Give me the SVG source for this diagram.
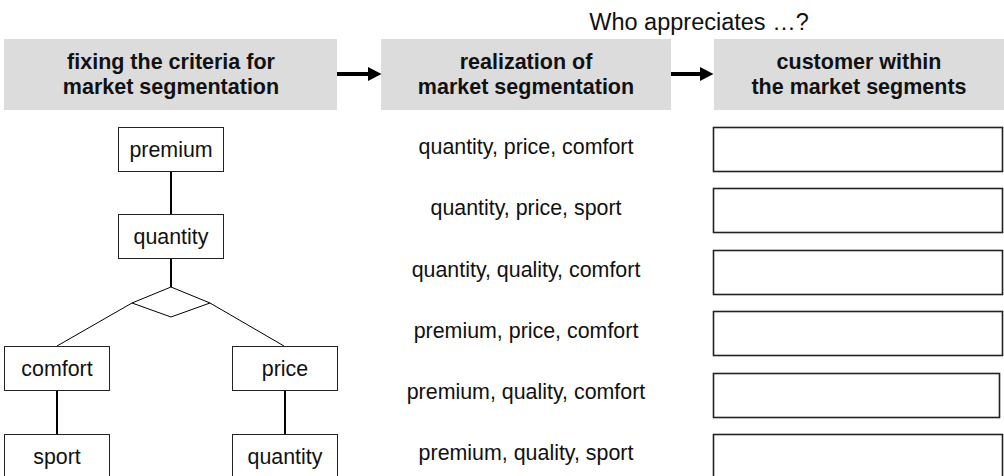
<svg xmlns="http://www.w3.org/2000/svg" width="1004" height="476" viewBox="0 0 1004 476">
<defs>
<style>
.hdr{fill:#dcdcdc;stroke:none}
.ht{font-family:"Liberation Sans",Arial,sans-serif;font-size:21.5px;font-weight:bold;fill:#111;text-anchor:middle}
.t{font-family:"Liberation Sans",Arial,sans-serif;font-size:21.4px;fill:#111;text-anchor:middle}
.box{fill:#fff;stroke:#222;stroke-width:1}
.ans{fill:#fff;stroke:#222;stroke-width:1.6}
.thick{stroke:#000;stroke-width:2;fill:none}
.thin{stroke:#000;stroke-width:1;fill:none}
.arr{stroke:#000;stroke-width:4;fill:none}
</style>
<marker id="ah" markerWidth="14" markerHeight="14" refX="0" refY="7" markerUnits="userSpaceOnUse" orient="auto">
<path d="M0,0 L13.5,7 L0,14 Z" fill="#000"/>
</marker>
</defs>
<rect width="1004" height="476" fill="#fff"/>

<text id="question" class="t" x="699" y="30" style="font-size:23.5px">Who appreciates …?</text>

<g id="header1">
<rect class="hdr" x="4" y="39" width="333" height="71"/>
<text class="ht" x="171" y="68.5">fixing the criteria for</text>
<text class="ht" x="171" y="93.5">market segmentation</text>
</g>
<g id="header2">
<rect class="hdr" x="381" y="39" width="290" height="71"/>
<text class="ht" x="526" y="68.5">realization of</text>
<text class="ht" x="526" y="93.5">market segmentation</text>
</g>
<g id="header3">
<rect class="hdr" x="714" y="39" width="290" height="71"/>
<text class="ht" x="859" y="68.5">customer within</text>
<text class="ht" x="859" y="93.5">the market segments</text>
</g>

<g id="connectors">
<line class="arr" x1="337" y1="74" x2="368" y2="74" marker-end="url(#ah)"/>
<line class="arr" x1="671" y1="74" x2="700" y2="74" marker-end="url(#ah)"/>
<line class="thick" x1="171" y1="171" x2="171" y2="214"/>
<line class="thick" x1="171" y1="258" x2="171" y2="287"/>
<line class="thin" x1="132" y1="303" x2="57" y2="346"/>
<line class="thin" x1="210" y1="303" x2="284" y2="346"/>
<line class="thick" x1="57" y1="390" x2="57" y2="434"/>
<line class="thick" x1="285" y1="390" x2="285" y2="434"/>
</g>

<g id="n-premium">
<rect class="box" x="118.5" y="127.5" width="105" height="44"/>
<text class="t" x="171" y="157">premium</text>
</g>
<g id="n-quantity">
<rect class="box" x="118.5" y="214.5" width="105" height="44"/>
<text class="t" x="171" y="244">quantity</text>
</g>
<g id="n-choice">
<polygon class="thin" points="171,287 210,303 171,317 132,303"/>
</g>
<g id="n-comfort">
<rect class="box" x="4.5" y="346.5" width="105" height="44"/>
<text class="t" x="57" y="376">comfort</text>
</g>
<g id="n-price">
<rect class="box" x="232.5" y="346.5" width="105" height="44"/>
<text class="t" x="285" y="376">price</text>
</g>
<g id="n-sport">
<rect class="box" x="4.5" y="434.5" width="105" height="44"/>
<text class="t" x="57" y="464">sport</text>
</g>
<g id="n-quantity2">
<rect class="box" x="232.5" y="434.5" width="105" height="44"/>
<text class="t" x="285" y="464">quantity</text>
</g>

<g id="segments">
<text class="t" x="526" y="154">quantity, price, comfort</text>
<text class="t" x="526" y="215">quantity, price, sport</text>
<text class="t" x="526" y="277">quantity, quality, comfort</text>
<text class="t" x="526" y="338">premium, price, comfort</text>
<text class="t" x="526" y="399">premium, quality, comfort</text>
<text class="t" x="526" y="460">premium, quality, sport</text>
</g>

<g id="answers">
<rect class="ans" x="713.5" y="127.5" width="289" height="44"/>
<rect class="ans" x="713.5" y="188.5" width="289" height="44"/>
<rect class="ans" x="713.5" y="250.5" width="289" height="44"/>
<rect class="ans" x="713.5" y="311.5" width="289" height="44"/>
<rect class="ans" x="713.5" y="373.5" width="286" height="44"/>
<rect class="ans" x="713.5" y="434.5" width="289" height="44"/>
</g>
</svg>
